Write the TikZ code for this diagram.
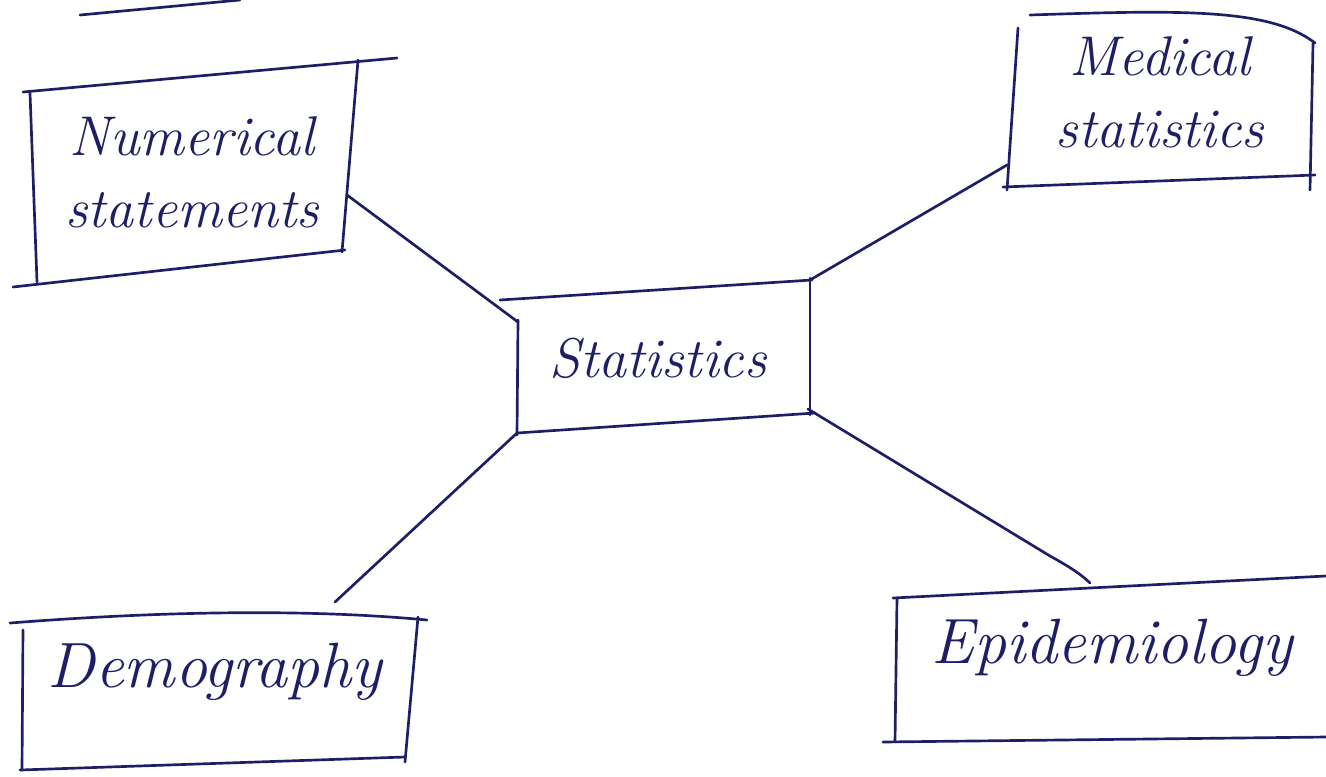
\documentclass[tikz,border=0pt]{standalone}
\usepackage{fontspec}
\begin{document}
\definecolor{ink}{HTML}{1E1E66}
\begin{tikzpicture}[x=0.75pt,y=-0.75pt,
  pen/.style={draw=ink,line width=2pt,line cap=round,line join=round},
  label/.style={text=ink,font=\itshape,inner sep=0pt,align=center},
  link/.style={pen}]
\useasboundingbox (0,0) rectangle (1326,776);

% stray stroke at the top
\draw[pen] (80,15) -- (240,0);

% ---- Numerical statements ----
\draw[pen] (23,92) -- (397,58);
\draw[pen] (30,93) -- (37,282);
\draw[pen] (358,60) -- (342,252);
\draw[pen] (13,287) -- (345,250);
\coordinate (num-r) at (347,195);
\node[label,font=\itshape\fontsize{42}{54}\selectfont] (num) at (192,172) {Numerical\\statements};

% ---- Medical statistics ----
\draw[pen] (1030,15) .. controls (1180,10) and (1270,8) .. (1315,43);
\draw[pen] (1018,28) -- (1007,190);
\draw[pen] (1313,43) -- (1310,190);
\draw[pen] (1003,187) -- (1315,175);
\coordinate (med-l) at (1007,165);
\node[label,font=\itshape\fontsize{42}{54}\selectfont] (med) at (1160,92) {Medical\\statistics};

% ---- Statistics (centre) ----
\draw[pen] (500,300) -- (812,280);
\draw[pen] (518,320) -- (517,435);
\draw[pen] (810,278) -- (810,415);
\draw[pen] (517,433) -- (815,413);
\coordinate (st-tl) at (518,322);
\coordinate (st-tr) at (810,280);
\coordinate (st-bl) at (517,433);
\coordinate (st-br) at (808,409);
\node[label,font=\itshape\fontsize{42}{46}\selectfont] (stat) at (658,358) {Statistics};

% ---- Demography ----
\draw[pen] (10,623) .. controls (150,612) and (300,608) .. (427,620);
\draw[pen] (23,630) -- (22,770);
\draw[pen] (418,617) -- (405,762);
\draw[pen] (20,770) -- (405,757);
\coordinate (dem-t) at (335,602);
\node[label,font=\itshape\fontsize{48}{52}\selectfont] (dem) at (215,672) {Demography};

% ---- Epidemiology ----
\draw[pen] (893,598) -- (1326,576);
\draw[pen] (897,598) -- (895,742);
\draw[pen] (883,742) -- (1326,737);
\coordinate (epi-t) at (1090,583);
\node[label,font=\itshape\fontsize{48}{52}\selectfont] (epi) at (1112,648) {Epidemiology};

% ---- connectors ----
\draw[link] (num-r) -- (st-tl);
\draw[link] (st-tr) -- (med-l);
\draw[link] (st-bl) -- (dem-t);
\draw[link] (st-br) -- (1050,556) .. controls (1070,567) and (1082,575) .. (epi-t);
\end{tikzpicture}
\end{document}
